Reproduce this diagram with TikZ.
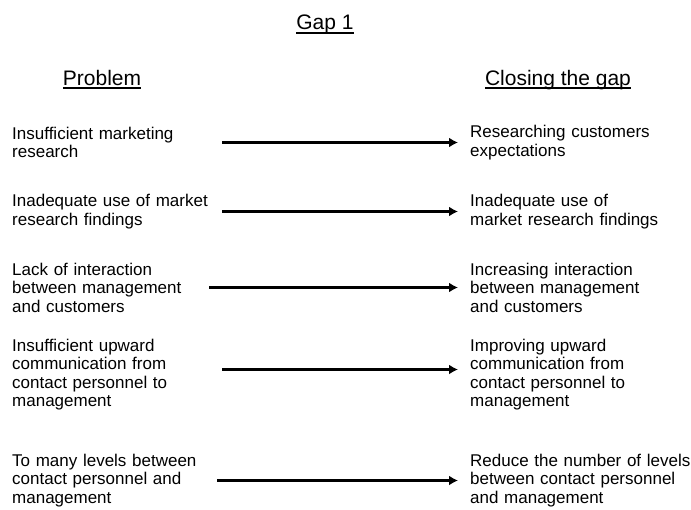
\documentclass[tikz,border=0pt]{standalone}
\usepackage{fontspec}
\setmainfont{Liberation Sans}
\usetikzlibrary{arrows.meta}
\newcommand{\headul}[1]{\setbox0\hbox{#1}\rlap{\rule[-4pt]{\wd0}{1.8pt}}\box0}
\tikzset{%
  >={Latex[width=10pt,length=9pt]},
  % Specifications for style of nodes:
            base/.style = {inner sep=0pt, align=left},
            head/.style = {base, anchor=base, font=\fontsize{21}{24}\selectfont},
         problem/.style = {base, anchor=west, text width=205pt},
         closing/.style = {base, anchor=west, text width=230pt},
  % style of the arrows
          closes/.style = {->, line width=3pt, shorten <=5pt, shorten >=12pt},
}

\begin{document}
\begin{tikzpicture}[x=1pt, y=-1pt,
    every node/.style={font=\fontsize{17}{18.5}\selectfont}]
  \useasboundingbox (0,0) rectangle (691,509);
  % Headings
  \node (gap)     [head] at (325,29.5) {\headul{Gap 1}};
  \node (problem) [head] at (102,85)   {\headul{Problem}};
  \node (closing) [head] at (558,85)   {\headul{Closing the gap}};
  % Problems (left column)
  \node (p1) [problem] at (12,142.5) {Insufficient marketing\\research};
  \node (p2) [problem] at (12,211.5) {Inadequate use of market\\research findings};
  \node (p3) [problem] at (12,287.5) {Lack of interaction\\between management\\and customers};
  \node (p4) [problem] at (12,374.5) {Insufficient upward\\communication from\\contact personnel to\\management};
  \node (p5) [problem] at (12,480.5) {To many levels between\\contact personnel and\\management};
  % Closing the gap (right column)
  \node (c1) [closing] at (470,142.5) {Researching customers\\expectations};
  \node (c2) [closing] at (470,211.5) {Inadequate use of\\market research findings};
  \node (c3) [closing] at (470,287.5) {Increasing interaction\\between management\\and customers};
  \node (c4) [closing] at (470,374.5) {Improving upward\\communication from\\contact personnel to\\management};
  \node (c5) [closing] at (470,480.5) {Reduce the number of levels\\between contact personnel\\and management};
  % Arrows between problem and solution
  \draw[closes]                 (p1) -- (c1);
  \draw[closes]                 (p2) -- (c2);
  \draw[closes, shorten <=-8pt] (p3) -- (c3);
  \draw[closes] ([yshift=5pt]p4.east) -- ([yshift=5pt]c4.west);
  \draw[closes, shorten <=0pt]  (p5) -- (c5);
\end{tikzpicture}
\end{document}
